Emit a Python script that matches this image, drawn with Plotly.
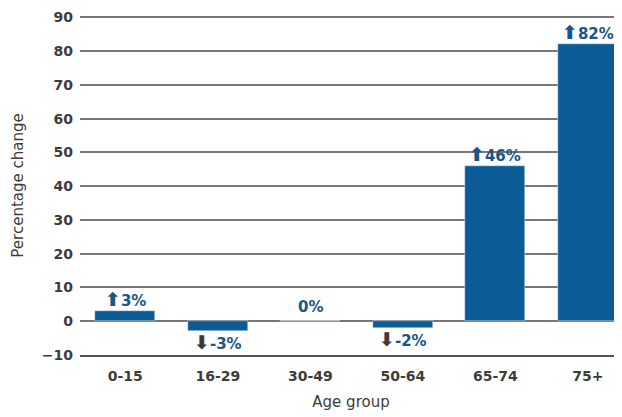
import plotly.graph_objects as go

categories = ["0-15", "16-29", "30-49", "50-64", "65-74", "75+"]
values = [3, -3, 0, -2, 46, 82]
label_texts = ["3%", "-3%", "0%", "-2%", "46%", "82%"]
y_ticks = [-10, 0, 10, 20, 30, 40, 50, 60, 70, 80, 90]

BAR = "#0b5b96"
TXT = "#1a5587"
DOWN = "#3a3a3a"
GREY = "#3c3c3c"
FONT = "DejaVu Sans"

fig = go.Figure()
fig.add_trace(go.Bar(x=list(range(len(categories))), y=values, marker_color=BAR,
                     width=0.65, showlegend=False, hoverinfo="skip"))

for i, (v, t) in enumerate(zip(values, label_texts)):
    if v > 0:
        txt = f'<span style="color:{TXT};font-size:19px">⬆</span>{t}'
        ys = 12
    elif v < 0:
        txt = f'<span style="color:{DOWN};font-size:19px">⬇</span>{t}'
        ys = -11
    else:
        txt = t
        ys = 14
    fig.add_annotation(x=i, y=v, text=f"<b>{txt}</b>", showarrow=False,
                       yshift=ys, font=dict(family=FONT, size=15, color=TXT))

fig.update_layout(
    width=614, height=409,
    margin=dict(l=72, r=0, t=7.6, b=62),
    paper_bgcolor="white", plot_bgcolor="white",
    font=dict(family=FONT, color=GREY),
    bargap=0,
)
fig.update_xaxes(
    range=[-0.49, 5.37], automargin=False,
    tickvals=list(range(len(categories))), ticktext=categories,
    tickfont=dict(size=14, color=GREY, weight="bold"), showgrid=False, zeroline=False,
    showline=True, linecolor="#555555", linewidth=1.5,
    ticks="", ticklabelstandoff=7,
    title=dict(text="Age group", font=dict(size=15, color=GREY), standoff=14),
)
fig.update_yaxes(
    range=[-10, 90.4], tickvals=y_ticks, automargin=False,
    tickfont=dict(size=14, color=GREY, weight="bold"),
    showgrid=True, gridcolor="#777777", gridwidth=1.5,
    zeroline=True, zerolinecolor="#777777", zerolinewidth=1.5,
    ticks="", ticklabelstandoff=6,
    title=dict(text="Percentage change", font=dict(size=15, color=GREY), standoff=14),
)

fig.write_html("out.html")
